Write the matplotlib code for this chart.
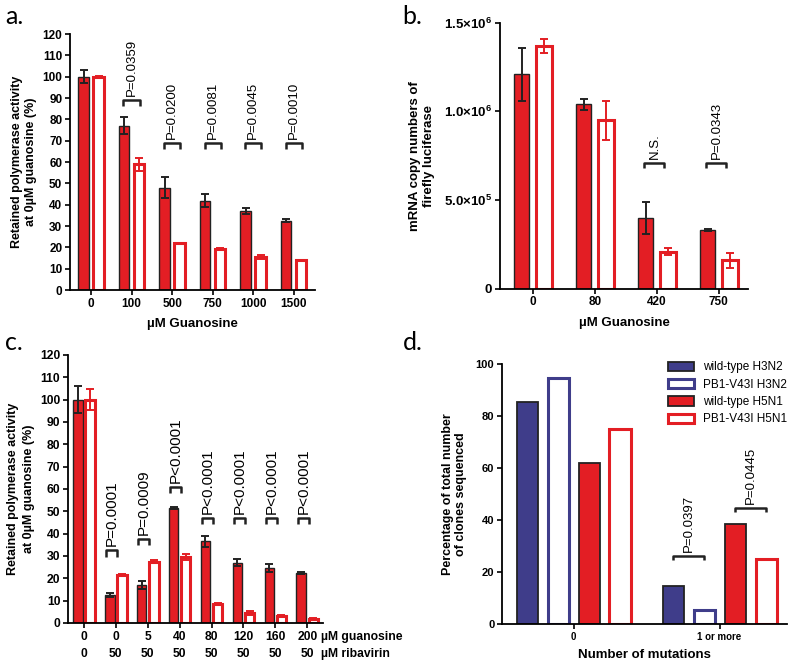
import numpy as np
import matplotlib
matplotlib.use("Agg")
import matplotlib.pyplot as plt

plt.rcParams['font.family'] = ['Liberation Sans', 'DejaVu Sans']
plt.rcParams['mathtext.fontset'] = 'custom'
plt.rcParams['mathtext.rm'] = 'Liberation Sans'
plt.rcParams['mathtext.bf'] = 'Liberation Sans:bold'

RED = '#e31e24'
BLUE = '#3f3d8a'
EDGE = '#222222'

# panel a
a_groups = ['0', '100', '500', '750', '1000', '1500']
a_wt = [100, 77, 48, 42, 37, 32.5]
a_wt_err = [3, 4, 5, 3, 1.5, 0.8]
a_mut = [100, 59, 22, 19.5, 15.5, 14]
a_mut_err = [0.5, 3, 0.3, 0.3, 1, 0.3]
a_pvals = ['', 'P=0.0359', 'P=0.0200', 'P=0.0081', 'P=0.0045', 'P=0.0010']
a_brk = [None, 89, 69, 69, 69, 69]

# panel b
b_groups = ['0', '80', '420', '750']
b_wt = [1.21e6, 1.04e6, 0.40e6, 0.33e6]
b_wt_err = [0.15e6, 0.03e6, 0.09e6, 0.005e6]
b_mut = [1.37e6, 0.95e6, 0.21e6, 0.16e6]
b_mut_err = [0.04e6, 0.11e6, 0.02e6, 0.04e6]
b_pvals = ['', '', 'N.S.', 'P=0.0343']
b_brk = [None, None, 0.71e6, 0.71e6]
b_yticks = [0, 5e5, 1e6, 1.5e6]
b_ylabels = ['0', r'$\mathbf{5.0{\times}10^{5}}$', r'$\mathbf{1.0{\times}10^{6}}$',
             r'$\mathbf{1.5{\times}10^{6}}$']

# panel c
c_guan = ['0', '0', '5', '40', '80', '120', '160', '200']
c_riba = ['0', '50', '50', '50', '50', '50', '50', '50']
c_wt = [100, 12.5, 17, 51.5, 36.5, 27, 24.5, 22.5]
c_wt_err = [6, 0.8, 2, 0.5, 2.5, 1.5, 1.8, 0.5]
c_mut = [100, 21.5, 27.5, 29.5, 8.5, 4.5, 3, 2]
c_mut_err = [4.5, 0.5, 0.5, 1.5, 0.3, 0.8, 0.5, 0.3]
c_pvals = ['', 'P=0.0001', 'P=0.0009', 'P<0.0001', 'P<0.0001', 'P<0.0001', 'P<0.0001', 'P<0.0001']
c_brk = [None, 32.5, 37.5, 61, 47, 47, 47, 47]

# panel d
d_groups = ['0', '1 or more']
d_series = ['wild-type H3N2', 'PB1-V43I H3N2', 'wild-type H5N1', 'PB1-V43I H5N1']
d_vals = [[85.5, 14.5], [94.5, 5.5], [62, 38.5], [75, 25]]


fig = plt.figure(figsize=(8, 6.67), dpi=100)


def style(ax):
    for s in ['top', 'right']:
        ax.spines[s].set_visible(False)
    for s in ['left', 'bottom']:
        ax.spines[s].set_linewidth(1.3)
    ax.tick_params(width=1.2, length=3.5, pad=2)
    for t in ax.get_xticklabels() + ax.get_yticklabels():
        t.set_fontweight('bold')


def pair_bars(ax, wt, wt_err, mut, mut_err, w, off):
    x = np.arange(len(wt))
    ax.bar(x - off, wt, w, color=RED, edgecolor=EDGE, linewidth=1.0, zorder=2)
    ax.errorbar(x - off, wt, yerr=wt_err, fmt='none', ecolor=EDGE,
                elinewidth=1.4, capsize=3, capthick=1.4, zorder=3)
    ax.bar(x + off, mut, w, color='white', edgecolor=RED, linewidth=2.2, zorder=2)
    ax.errorbar(x + off, mut, yerr=mut_err, fmt='none', ecolor=RED,
                elinewidth=1.4, capsize=3, capthick=1.4, zorder=3)
    return x


def bracket(ax, x0, x1, y, h, text, fs):
    ax.plot([x0, x0, x1, x1], [y - h, y, y, y - h], color=EDGE, lw=1.8,
            solid_capstyle='butt', zorder=4)
    ax.annotate(text, ((x0 + x1) / 2, y), xytext=(0, 3), textcoords='offset points',
                rotation=90, ha='center', va='bottom', fontsize=fs)


# ---- a ----
ax = fig.add_axes([0.0875, 0.565, 0.306, 0.384])
x = pair_bars(ax, a_wt, a_wt_err, a_mut, a_mut_err, 0.26, 0.185)
ax.set_xlim(-0.52, len(a_groups) - 0.48)
ax.set_ylim(0, 120)
ax.set_yticks(range(0, 121, 10))
ax.set_xticks(x)
ax.set_xticklabels(a_groups)
for i, (p, yb) in enumerate(zip(a_pvals, a_brk)):
    if yb is not None:
        bracket(ax, i - 0.2, i + 0.2, yb, 2.8, p, 9.5)
ax.set_ylabel('Retained polymerase activity\nat 0\u00b5M guanosine (%)',
              fontsize=9, fontweight='bold', labelpad=4)
ax.set_xlabel('\u00b5M Guanosine', fontsize=9.5, fontweight='bold', labelpad=6)
ax.tick_params(labelsize=8.5)
style(ax)

# ---- b ----
ax = fig.add_axes([0.625, 0.567, 0.31, 0.399])
x = pair_bars(ax, b_wt, b_wt_err, b_mut, b_mut_err, 0.25, 0.18)
ax.set_xlim(-0.53, len(b_groups) - 0.53)
ax.set_ylim(0, 1.5e6)
ax.set_yticks(b_yticks)
ax.set_yticklabels(b_ylabels)
ax.set_xticks(x)
ax.set_xticklabels(b_groups)
for i, (p, yb) in enumerate(zip(b_pvals, b_brk)):
    if yb is not None:
        bracket(ax, i - 0.2, i + 0.12, yb, 0.03e6, p, 9.5)
ax.set_ylabel('mRNA copy numbers of\nfirefly luciferase', fontsize=9.5,
              fontweight='bold', labelpad=7)
ax.set_xlabel('\u00b5M Guanosine', fontsize=9.5, fontweight='bold', labelpad=6)
ax.tick_params(axis='x', labelsize=8.5)
ax.tick_params(axis='y', labelsize=9.5)
style(ax)

# ---- c ----
ax = fig.add_axes([0.085, 0.066, 0.319, 0.402])
x = pair_bars(ax, c_wt, c_wt_err, c_mut, c_mut_err, 0.3, 0.19)
ax.set_xlim(-0.5, len(c_guan) - 0.5)
ax.set_ylim(0, 120)
ax.set_yticks(range(0, 121, 10))
ax.set_xticks(x)
ax.set_xticklabels([g + '\n' + r for g, r in zip(c_guan, c_riba)])
for t in ax.get_xticklabels():
    t.set_linespacing(1.55)
ax.annotate('\u00b5M guanosine\n\u00b5M ribavirin', (len(c_guan) - 0.58, 0),
            xycoords=('data', 'axes fraction'), xytext=(0, -5.5),
            textcoords='offset points', ha='left', va='top', fontsize=8.7,
            fontweight='bold', linespacing=1.55, annotation_clip=False)
for i, (p, yb) in enumerate(zip(c_pvals, c_brk)):
    if yb is not None:
        bracket(ax, i - 0.3, i + 0.05, yb, 2.8, p, 11)
ax.set_ylabel('Retained polymerase activity\nat 0\u00b5M guanosine (%)',
              fontsize=9, fontweight='bold', labelpad=4, linespacing=1.4)
ax.tick_params(labelsize=8.7)
style(ax)

# ---- d ----
ax = fig.add_axes([0.6275, 0.0645, 0.356, 0.39])
xd = np.arange(len(d_groups))
dw = 0.144
dsp = 0.212
fills = [BLUE, 'white', RED, 'white']
edges = [EDGE, BLUE, EDGE, RED]
lws = [1.3, 2.2, 1.3, 2.2]
for k, vals in enumerate(d_vals):
    ax.bar(xd + (k - 1.5) * dsp, vals, dw, color=fills[k], edgecolor=edges[k],
           linewidth=lws[k], label=d_series[k], zorder=2)
bracket(ax, 1 - 1.5 * dsp, 1 - 0.5 * dsp, 26.2, 1.6, 'P=0.0397', 9.5)
bracket(ax, 1 + 0.5 * dsp, 1 + 1.5 * dsp, 44.6, 1.6, 'P=0.0445', 9.5)
ax.set_xlim(-0.49, 1.46)
ax.set_ylim(0, 100)
ax.set_yticks(range(0, 101, 20))
ax.set_xticks(xd)
ax.set_xticklabels(d_groups)
ax.tick_params(axis='x', labelsize=7)
ax.tick_params(axis='y', labelsize=8)
ax.set_ylabel('Percentage of total number\nof clones sequenced', fontsize=9,
              fontweight='bold', labelpad=6)
ax.set_xlabel('Number of mutations', fontsize=9.5, fontweight='bold', labelpad=5)
ax.legend(loc='upper right', bbox_to_anchor=(1.04, 1.05), frameon=False,
          fontsize=8.5, handlelength=2.2, handleheight=0.8, labelspacing=0.45,
          handletextpad=0.8)
style(ax)

# panel letters
for lbl, px, py in [('a.', 0.006, 0.975), ('b.', 0.503, 0.975),
                    ('c.', 0.006, 0.487), ('d.', 0.503, 0.487)]:
    fig.text(px, py, lbl, fontsize=18, family=['Lato', 'DejaVu Sans'], va='center')

fig.savefig('out.png', dpi=100)
